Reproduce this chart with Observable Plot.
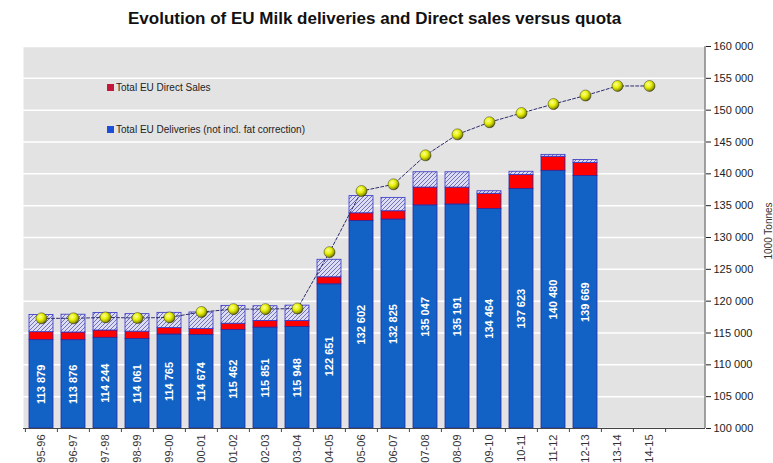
<!DOCTYPE html>
<html><head><meta charset="utf-8">
<script src="https://cdn.jsdelivr.net/npm/d3@7"></script>
<script src="https://cdn.jsdelivr.net/npm/@observablehq/plot@0.6"></script>
<style>
body{margin:0;background:#fff;font-family:Arial,"Liberation Sans",sans-serif;}
#wrap{position:relative;width:773px;height:463px;overflow:hidden;}
#title{position:absolute;left:128px;top:9px;font-weight:bold;font-size:17px;line-height:20px;color:#111;white-space:nowrap;}
.leg{position:absolute;left:107px;font-size:10px;line-height:12px;color:#222;white-space:nowrap;}
.leg span{display:inline-block;width:7px;height:7px;margin-right:2px;vertical-align:0px;}
#unit{position:absolute;left:740px;top:226px;width:56px;text-align:center;font-size:10px;color:#333;transform:rotate(-90deg);white-space:nowrap;}
#chart{position:absolute;left:0;top:0;}
</style></head><body>
<div id="wrap">
<div id="chart"></div>
<div id="title">Evolution of EU Milk deliveries and Direct sales versus quota</div>
<div class="leg" style="top:82px"><span style="background:#c3183c"></span>Total EU Direct Sales</div>
<div class="leg" style="top:124px"><span style="background:#1c4ed8"></span>Total EU Deliveries (not incl. fat correction)</div>
<div id="unit">1000 Tonnes</div>
</div>
<script>
const categories = ["95-96","96-97","97-98","98-99","99-00","00-01","01-02","02-03","03-04","04-05","05-06","06-07","07-08","08-09","09-10","10-11","11-12","12-13","13-14","14-15"];
const deliveries = [113879,113876,114244,114061,114765,114674,115462,115851,115948,122651,132602,132825,135047,135191,134464,137623,140480,139669,null,null];
const directSales = [1250,1200,1150,1150,1000,950,1000,1050,950,1100,1200,1300,2800,2650,2400,2200,2200,2050,null,null];
const hatched = [2700,2800,2750,2750,2400,2600,2800,2300,2400,2750,2700,2100,2400,2400,400,500,300,450,null,null];
const quota = [117300,117300,117450,117350,117450,118300,118750,118750,118850,127700,137300,138350,142900,146200,148100,149550,150960,152300,153800,153800];
const yTicks = [100000,105000,110000,115000,120000,125000,130000,135000,140000,145000,150000,155000,160000];

const base = 100000;
const segs = [];
categories.forEach((c, i) => {
  if (deliveries[i] == null) return;
  const d = deliveries[i], s = directSales[i], h = hatched[i];
  segs.push({cat: c, kind: "deliv", y1: base, y2: d});
  segs.push({cat: c, kind: "direct", y1: d, y2: d + s});
  segs.push({cat: c, kind: "hatch", y1: d + s, y2: d + s + h});
});
const labels = categories.map((c, i) => ({cat: c, v: deliveries[i]})).filter(d => d.v != null);
const quotaRows = categories.map((c, i) => ({cat: c, q: quota[i]}));

const fmt = v => d3.format(",")(v).replace(/,/g, " ");
const ns = "http://www.w3.org/2000/svg";

function defs() {
  const g = document.createElementNS(ns, "defs");
  g.innerHTML = `
    <pattern id="hatch" patternUnits="userSpaceOnUse" width="4" height="4">
      <rect width="4" height="4" fill="#dcdcf2"/>
      <path d="M-1,1 l2,-2 M0,4 l4,-4 M3,5 l2,-2" stroke="#6464b4" stroke-width="0.9"/>
    </pattern>
    <radialGradient id="ball" cx="38%" cy="35%" r="70%">
      <stop offset="0" stop-color="#fbff9a"/>
      <stop offset="0.45" stop-color="#e6f000"/>
      <stop offset="0.8" stop-color="#9aa000"/>
      <stop offset="1" stop-color="#2c2c00"/>
    </radialGradient>`;
  return g;
}

// right-hand axis line, placed from the plot's own dimensions
function rightAxisLine(index, scales, values, dims) {
  const l = document.createElementNS(ns, "line");
  const x = dims.width - dims.marginRight;
  l.setAttribute("x1", x); l.setAttribute("x2", x);
  l.setAttribute("y1", dims.marginTop); l.setAttribute("y2", dims.height - dims.marginBottom);
  l.setAttribute("stroke", "#555");
  return l;
}

const step = (667.3 - 23.3) / 20;

const chart = Plot.plot({
  width: 773,
  height: 463,
  marginLeft: 23,
  marginRight: 68,
  marginTop: 46,
  marginBottom: 35,
  style: {fontFamily: "Arial, 'Liberation Sans', sans-serif", background: "transparent"},
  x: {type: "band", domain: categories, range: [23.3, 667.3], paddingInner: 0.25, paddingOuter: 0.125, label: null},
  y: {domain: [100000, 160000], label: null},
  marks: [
    defs,
    Plot.frame({fill: "#e3e3e3", stroke: "none"}),
    Plot.gridY(yTicks, {stroke: "#ffffff", strokeOpacity: 1, strokeWidth: 1.5}),
    Plot.barY(segs.filter(d => d.kind === "deliv"), {x: "cat", y1: "y1", y2: "y2", fill: "#1262c6", stroke: "#2a2aa0", strokeWidth: 0.8}),
    Plot.barY(segs.filter(d => d.kind === "direct"), {x: "cat", y1: "y1", y2: "y2", fill: "#ff0000", stroke: "#2a2aa0", strokeWidth: 0.8}),
    Plot.barY(segs.filter(d => d.kind === "hatch"), {x: "cat", y1: "y1", y2: "y2", fill: "url(#hatch)", stroke: "#3434c8", strokeWidth: 0.8}),
    Plot.text(labels, {x: "cat", y: d => (base + d.v) / 2, text: d => fmt(d.v), rotate: -90, fill: "white", fontWeight: "bold", fontSize: 11}),
    Plot.line(quotaRows, {x: "cat", y: "q", stroke: "#2d2d6e", strokeWidth: 1, strokeDasharray: "3,2"}),
    Plot.dot(quotaRows, {x: "cat", y: "q", r: 5.5, fill: "url(#ball)", stroke: "#3a3a10", strokeWidth: 0.5}),
    Plot.ruleY([base], {stroke: "#444", strokeWidth: 1}),
    rightAxisLine,
    Plot.axisY(yTicks, {anchor: "right", tickSize: 5, tickPadding: 3, tickFormat: fmt, fontSize: 11, color: "#222", label: null}),
    Plot.axisX(categories, {tickSize: 4, tickFormat: () => "", dx: -step / 2, stroke: "#444", label: null}),
    Plot.axisX([categories[19]], {tickSize: 4, tickFormat: () => "", dx: step / 2, stroke: "#444", label: null}),
    Plot.axisX(categories, {tickSize: 0, tickRotate: -90, tickPadding: 6, fontSize: 11, color: "#333", label: null})
  ]
});
document.getElementById("chart").appendChild(chart);
</script>
</body></html>
